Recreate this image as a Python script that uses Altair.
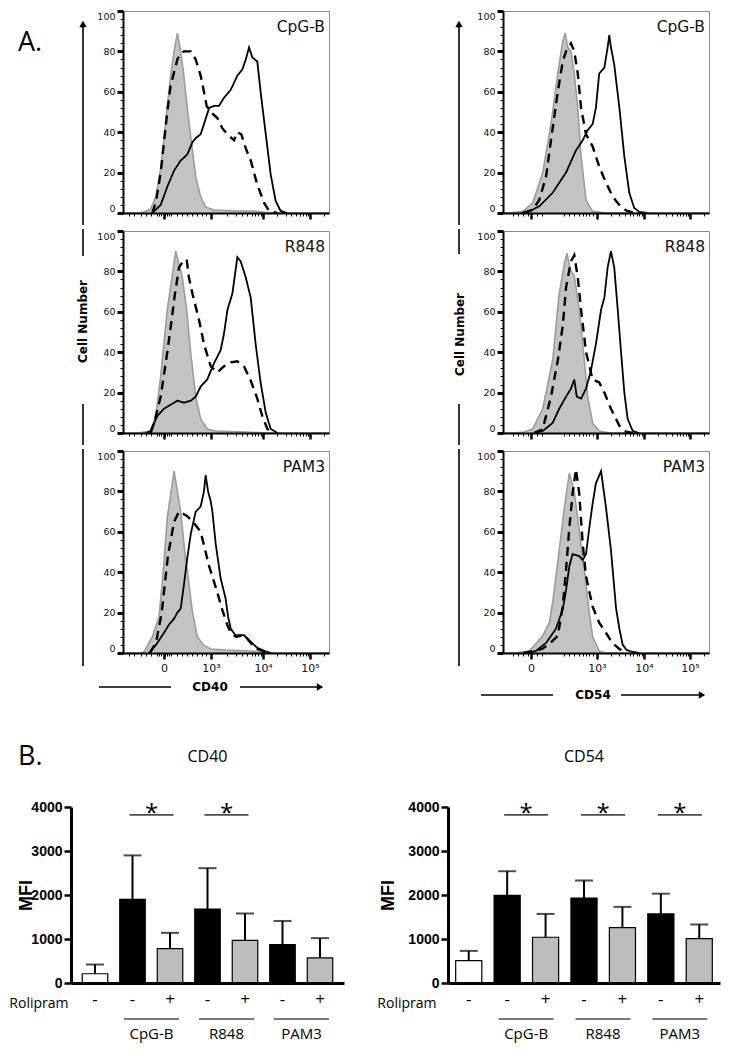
import altair as alt
import pandas as pd

# ---------------- Panel A: flow-cytometry histograms ----------------
# x = position along the biexponential display axis (% of axis width), y = % of mode
# ISO = isotype control (grey fill), ROL = stimulus + rolipram (dashed), STIM = stimulus alone (solid)
CD40_CPG_ISO = [(0, 0), (7, 0), (10.2, 0.5), (13.4, 2), (15.9, 8), (18.3, 22), (20.7, 45), (23.1, 68), (24.8, 80), (26.4, 89),
                (27.7, 82), (29.3, 70), (31.2, 52), (33.2, 35), (35.3, 18), (37.7, 8), (40.1, 3), (44.2, 1.5), (55.5, 1),
                (63.6, 1), (68.5, 0.3), (74.9, 0), (100, 0)]
CD40_CPG_ROL = [(14.2, 0), (15.9, 5), (18.3, 20), (21.5, 50), (23.1, 63), (26.4, 76), (28, 79), (29.6, 80), (32.9, 80),
                (35.3, 76), (37.7, 68), (39.3, 60), (40.6, 53), (42.6, 50), (45.8, 47), (48.2, 42), (50.7, 39), (53.9, 36),
                (55.5, 40), (57.4, 39), (59.6, 32), (62, 26), (65.2, 14), (68.5, 5), (70.9, 1), (74.9, 0)]
CD40_CPG_STIM = [(14.2, 0), (18.3, 4), (21.5, 13), (24.8, 21), (28, 26), (31.2, 29), (33.7, 35), (35.3, 37), (37.7, 39),
                 (39.3, 44), (41.8, 52), (44.2, 53), (46.6, 53), (49, 57), (52.3, 61), (55.5, 68), (57.9, 71), (59.6, 76),
                 (61.2, 82), (62.8, 77), (65.2, 75), (66.8, 60), (69.3, 39), (71.7, 19), (74.1, 6), (76.5, 1), (79.8, 0)]

CD40_R848_ISO = [(0, 0), (7, 0), (13.4, 1), (15.9, 8.5), (18.3, 28), (21.5, 61), (25.6, 90), (28.8, 77), (30.9, 61),
                 (32.9, 39.5), (35.3, 18), (37.7, 7), (40.9, 2), (45, 1), (60, 0.5), (70, 0), (100, 0)]
CD40_R848_ROL = [(13.4, 0), (15.1, 5), (18.3, 18), (21.5, 40), (23.1, 52), (25.1, 68), (27.2, 82), (28.5, 84), (30.9, 86),
                 (32, 77), (33.7, 69), (36.9, 56), (39.3, 44), (42.6, 33), (45.8, 30), (49, 33), (52.3, 35), (55.5, 35.5),
                 (58.7, 33), (62, 26), (65.2, 17), (67.6, 8.5), (70.1, 2), (73, 0)]
CD40_R848_STIM = [(11, 0), (13.4, 1), (16.7, 8.5), (19.9, 12), (23.1, 14), (26.4, 16), (29.6, 15), (32.9, 16), (35.3, 18),
                  (37.7, 23), (40.9, 26.5), (44.2, 34.6), (47.4, 41), (49, 49), (50.7, 61), (53.1, 69), (55.5, 87),
                  (57.1, 85), (59.6, 77), (62, 67), (64.4, 44), (66.8, 25), (69.3, 10), (71.7, 2), (75, 0)]

CD40_PAM3_ISO = [(0, 0), (8, 0), (10.2, 0.5), (14.2, 8), (17.5, 18), (19.6, 41), (21.5, 67), (24.8, 90), (28, 70),
                 (30.4, 46), (31.2, 41), (33.6, 21), (36.1, 8), (39, 4), (42.6, 2), (50, 1.5), (62, 1), (70, 0), (100, 0)]
CD40_PAM3_ROL = [(13, 0), (16, 5), (18.8, 20), (21.8, 48), (24.8, 65), (27.2, 70), (30.9, 68), (34, 65), (37.7, 60),
                 (41.8, 43), (45.8, 30), (48, 22), (50.6, 14), (52.3, 10), (55, 8), (58.7, 9), (62, 5), (65.2, 2), (70, 0)]
CD40_PAM3_STIM = [(12.6, 0), (16, 4), (19.9, 10), (22.3, 14), (24.8, 17), (26.4, 20), (28, 22), (29.6, 34), (31.2, 47),
                  (32.9, 59), (35.3, 70), (37.7, 72.5), (39.3, 80), (40.1, 88), (41.3, 80), (42.6, 75), (43.4, 70),
                  (45, 54), (47.4, 37), (49.8, 27), (51, 18), (52.3, 12), (54.6, 8.8), (58.7, 8.8), (62, 5.6),
                  (65.2, 2.5), (69.2, 0.8), (72, 0)]

CD54_CPG_ISO = [(0, 0), (3, 0), (9.6, 0.8), (14.4, 5), (19.3, 20), (23.3, 44), (26.6, 69), (29, 85), (30.2, 89),
                (31.4, 82), (33, 80), (34.6, 69), (36.3, 52), (37.9, 28), (40.3, 6.5), (43.5, 0.8), (50, 0), (100, 0)]
CD54_CPG_ROL = [(10, 0), (14.4, 1.6), (17.6, 6.5), (20.9, 18), (23.3, 36), (26.6, 60), (29, 75), (30.6, 80), (33, 84),
                (34.6, 80), (36.3, 69), (37.9, 52), (40.3, 39), (43.5, 33), (46.7, 23), (50, 15), (53.3, 8), (56.5, 4),
                (59.7, 1.3), (63, 0.3), (66, 0)]
CD54_CPG_STIM = [(9, 0), (12.8, 0.8), (17.6, 3.3), (24.1, 10), (30.6, 20), (35.4, 31), (38.7, 36), (41.1, 41),
                 (43.5, 44), (45.1, 52), (46.7, 69), (49.2, 72), (50.8, 82), (51.6, 88), (52.4, 82), (54, 73.5),
                 (56.5, 52), (58.9, 28), (61.3, 10), (63.7, 2.5), (66.2, 0.5), (70, 0)]

CD54_R848_ISO = [(0, 0), (5, 0), (10, 0.5), (14.4, 2), (19.3, 12), (24.1, 36), (27.3, 69), (29.8, 84), (31.1, 89),
                 (32.5, 81), (34.6, 78), (37, 61), (39.5, 36), (41.1, 18), (43.5, 5), (46.7, 1), (52, 0), (100, 0)]
CD54_R848_ROL = [(15, 0), (19.3, 2), (23.3, 18), (26.6, 36), (29, 53), (30.6, 72), (33, 85), (34.6, 88), (36.3, 77),
                 (37.9, 61), (40.3, 40), (43.5, 26.5), (46.7, 25), (49.2, 20), (52.4, 12), (56.5, 3.6), (59.7, 0.7),
                 (63, 0)]
CD54_R848_STIM = [(15, 0), (19.3, 1), (24.1, 5), (27.3, 12), (30.6, 18), (33, 22), (34.6, 26.5), (35.8, 18), (37.9, 17),
                  (40.3, 22), (42.7, 31), (45.1, 44), (47.6, 61), (49.2, 67), (50.8, 82), (52.4, 90), (54, 82),
                  (55.7, 61), (57.3, 40), (58.9, 20), (60.5, 7), (63, 1), (66, 0)]

CD54_PAM3_ISO = [(0, 0), (5, 0), (12.8, 1), (19.3, 8.5), (22.5, 15), (24.1, 25), (27.3, 51), (29.8, 72), (32.2, 89),
                 (34.6, 80), (37, 61), (38.7, 46), (39.5, 41), (41.9, 20), (43.5, 8), (46.7, 1), (50, 0), (100, 0)]
CD54_PAM3_ROL = [(10, 0), (19, 2), (23, 5), (26.6, 8.5), (29, 23), (30.6, 41), (32.2, 62), (33.8, 79), (35.4, 91),
                 (37, 79), (38.7, 54), (40.3, 38), (43.5, 23), (46.7, 15), (50, 10), (53, 5), (56.5, 2), (60, 0)]
CD54_PAM3_STIM = [(12, 0), (16, 1), (20.9, 5), (25.7, 12), (29, 21.6), (30.6, 31), (32.2, 43), (33.8, 49), (37, 48),
                  (38.7, 46), (40.3, 49), (41.9, 62), (43.5, 74), (45.1, 84), (47.6, 90), (50, 72), (52.4, 51),
                  (54.9, 22), (56.5, 12), (58.1, 4), (60, 1.5), (63, 0.5), (66, 0)]

STIMULI = ["CpG-B", "R848", "PAM3"]

# axis tick positions (0, 10^3, 10^4, 10^5) on the display axis
CD40_MAJOR = [19.9, 42.7, 68.0, 90.8]
CD40_MINOR = [2.9, 5.3, 8.7, 11.2, 13.6, 16.5, 17.5, 18.4, 20.4, 21.4, 22.3, 23.3, 26.2, 28.6, 31.1, 33.5, 35.9,
              38.3, 40.3, 50.3, 54.8, 57.9, 60.4, 62.4, 64.1, 65.5, 66.8, 74.9, 78.9, 81.7, 83.9, 85.7, 87.3, 88.6,
              89.8, 97.7]
CD54_MAJOR = [13.6, 45.6, 68.4, 90.8]
CD54_MINOR = [4.7, 7.1, 9.6, 12.0, 16.5, 19.0, 29.6, 32.0, 34.5, 37.0, 38.6, 40.3, 41.9, 43.5, 52.5, 56.5, 59.3,
              61.5, 63.3, 64.9, 66.2, 67.3, 75.3, 79.3, 82.1, 84.3, 86.0, 87.5, 88.8, 89.9, 97.5]
Y_MAJOR = [0, 20, 40, 60, 80, 100]
Y_MINOR = [4, 8, 12, 16, 24, 28, 32, 36, 44, 48, 52, 56, 64, 68, 72, 76, 84, 88, 92, 96]

# ---------------- Panel B: bar charts ----------------
BAR_CATS = ["ctrl|-", "CpG-B|-", "CpG-B|+", "R848|-", "R848|+", "PAM3|-", "PAM3|+"]
BAR_COND = ["ctrl", "-", "+", "-", "+", "-", "+"]
CD40_MEAN = [210, 1900, 780, 1680, 970, 870, 570]
CD40_SD = [210, 1000, 360, 930, 610, 540, 450]
CD54_MEAN = [510, 1990, 1040, 1930, 1260, 1570, 1010]
CD54_SD = [220, 550, 530, 400, 470, 460, 320]
CD40_SIG = ["CpG-B", "R848"]
CD54_SIG = ["CpG-B", "R848", "PAM3"]
SIG_LEVEL = 3820

PW, PH = 206, 202
BH = 176
X_LABEL_EXPR = ("datum.value < 30 ? '0' : datum.value < 56 ? '10\u00b3' : "
                "datum.value < 80 ? '10\u2074' : '10\u2075'")
ONE = pd.DataFrame({"k": [0]})


def xy(points):
    return pd.DataFrame(points, columns=["x", "y"])


def minor_axis(values, orient):
    return alt.Axis(values=values, labels=False, tickSize=3, tickWidth=1, domain=False, orient=orient,
                    title=None, grid=False, zindex=1)


def rule(x, y, x2=None, y2=None, w=1.6):
    enc = dict(x=alt.value(x), y=alt.value(y))
    if x2 is not None:
        enc["x2"] = alt.value(x2)
    if y2 is not None:
        enc["y2"] = alt.value(y2)
    return alt.Chart(ONE).mark_rule(color="black", strokeWidth=w).encode(**enc)


def anchor(x1, y1, x2, y2):
    # invisible frame that fixes the layout extent of a panel
    return alt.Chart(ONE).mark_rule(color="white", opacity=0, strokeWidth=0.1).encode(
        x=alt.value(x1), y=alt.value(y1), x2=alt.value(x2), y2=alt.value(y2))


def arrowhead(x, y, shape):
    return alt.Chart(ONE).mark_point(shape=shape, filled=True, color="black", size=55, opacity=1).encode(
        x=alt.value(x), y=alt.value(y))


def label(text, x, y, size, weight="normal", font="Open Sans", align="center"):
    return alt.Chart(ONE).mark_text(text=text, fontSize=size, fontWeight=weight, font=font, align=align,
                                    baseline="middle", color="black").encode(x=alt.value(x), y=alt.value(y))


def hist_panel(name, iso, rol, stim, major_x, minor_x, pos, col):
    xs = alt.Scale(domain=[0, 100], nice=False, zero=False)
    ys = alt.Scale(domain=[0, 100], nice=False)
    x_axis = alt.Axis(values=major_x, orient="bottom", labels=(pos == 2), labelExpr=X_LABEL_EXPR,
                      labelFontSize=11, labelPadding=3, tickSize=6, tickWidth=2.5, domainWidth=2,
                      title=None, grid=False, zindex=1)
    ykw = dict(values=Y_MAJOR, orient="left", labelFontSize=9.5, labelFlush=True, tickSize=6, tickWidth=3,
               domainWidth=2, labelPadding=2, grid=False, zindex=1)
    if pos == 1:
        ykw.update(title="Cell Number", titleFontSize=12, titleFontWeight="bold", titleAlign="center",
                   titleBaseline="middle", titleX=(-41 if col == 0 else -44), titleY=(90 if col == 0 else 103))
    else:
        ykw["title"] = None
    area = alt.Chart(xy(iso)).mark_area(
        color="#c3c3c3", opacity=1, clip=True, line={"color": "#9c9c9c", "strokeWidth": 1.6}
    ).encode(x=alt.X("x:Q", scale=xs, axis=x_axis), y=alt.Y("y:Q", scale=ys, axis=alt.Axis(**ykw)))
    dashed = alt.Chart(xy(rol)).mark_line(color="black", strokeWidth=2.4, strokeDash=[9, 6], clip=True).encode(
        x=alt.X("x:Q", scale=xs, axis=minor_axis(minor_x, "bottom")),
        y=alt.Y("y:Q", scale=ys, axis=minor_axis(Y_MINOR, "left")))
    solid = alt.Chart(xy(stim)).mark_line(color="black", strokeWidth=1.8, clip=True).encode(
        x=alt.X("x:Q", scale=xs, axis=None), y=alt.Y("y:Q", scale=ys, axis=None))
    text = alt.Chart(pd.DataFrame({"t": [name]})).mark_text(
        align="right", baseline="alphabetic", fontSize=15.5, font="DejaVu Sans", color="#111"
    ).encode(text="t:N", x=alt.value(PW - 4), y=alt.value(21))
    layers = [area, dashed, solid, text]
    ax = -40 if col == 0 else -44
    bottom_ext = PH + 50 if pos == 2 else PH + 12
    layers.append(anchor(-49 if col == 0 else -60, -2, 210, bottom_ext))
    if pos == 0:
        layers += [rule(ax, 13, y2=PH + 12), arrowhead(ax, 13, "triangle-up")]
    if pos == 1:
        layers += [rule(ax, -2, y2=25 if col == 0 else 23), rule(ax, 173, y2=PH + 12)]
    if pos == 2:
        layers.append(rule(ax, -2, y2=215))
        nm = "CD40" if col == 0 else "CD54"
        ly = PH + 34 if col == 0 else PH + 42
        cx = 87 if col == 0 else 90
        l0, l1 = (-24, 48) if col == 0 else (-22, 50)
        r0, r1 = (117, 197) if col == 0 else (118, 199)
        layers += [label(nm, cx, ly, 12, "bold", "DejaVu Sans"),
                   rule(l0, ly, x2=l1, w=1.4), rule(r0, ly, x2=r1, w=1.4), arrowhead(r1, ly, "triangle-right")]
    return alt.layer(*layers).resolve_axis(x="independent", y="independent").properties(
        width=PW, height=PH, view={"stroke": "#8c8c8c", "strokeWidth": 1})


def bar_chart(title, means, sds, sig, W, po, mfi_x, rol_x, left_ext, right_ext, with_b):
    H = BH
    df = pd.DataFrame({"cat": BAR_CATS, "cond": BAR_COND, "mean": means, "sd": sds})
    df["top"] = df["mean"] + df["sd"]
    xsc = alt.Scale(domain=BAR_CATS, paddingInner=0.32, paddingOuter=po)
    ysc = alt.Scale(domain=[0, 4000], nice=False)
    x_axis = alt.Axis(labelExpr="split(datum.label, '|')[1]", labelAngle=0, ticks=False, domainWidth=3,
                      labelFontSize=17, labelFont="Open Sans", labelPadding=8, labelColor="black",
                      title="Rolipram", titleFont="Open Sans", titleFontSize=14, titleFontWeight="normal",
                      titleAlign="right", titleBaseline="middle", titleAngle=0, titleX=rol_x, titleY=20,
                      titleColor="black", zindex=1)
    y_axis = alt.Axis(values=[0, 1000, 2000, 3000, 4000], format="d", labelFont="Liberation Sans",
                      labelFontWeight="bold", labelFontSize=14, labelColor="black", tickSize=7, tickWidth=2.5,
                      domainWidth=3, labelPadding=2, title="MFI", titleFont="Liberation Sans", titleFontSize=18,
                      titleFontWeight="bold", titleX=mfi_x, titleY=H / 2, titleAlign="center",
                      titleBaseline="middle", titleColor="black", zindex=1)
    base = alt.Chart(df)
    bars = base.mark_bar(stroke="black", strokeWidth=1.2).encode(
        x=alt.X("cat:N", scale=xsc, axis=x_axis, sort=BAR_CATS),
        y=alt.Y("mean:Q", scale=ysc, axis=y_axis),
        fill=alt.Fill("cond:N", scale=alt.Scale(domain=["ctrl", "-", "+"], range=["#ffffff", "#000000", "#bdbdbd"]),
                      legend=None))
    err = base.mark_rule(color="black", strokeWidth=2).encode(x="cat:N", y="mean:Q", y2="top:Q")
    caps = base.mark_tick(color="black", thickness=2, size=18, orient="horizontal").encode(x="cat:N", y="top:Q")
    sig_df = pd.DataFrame({"cat": [g + "|-" for g in sig], "y": [SIG_LEVEL] * len(sig), "s": ["*"] * len(sig)})
    sig_line = alt.Chart(sig_df).mark_tick(color="black", thickness=1.6, size=44, orient="horizontal",
                                           xOffset=19).encode(x="cat:N", y="y:Q")
    sig_star = alt.Chart(sig_df).mark_text(fontSize=24, font="Open Sans", dx=19, dy=6, baseline="alphabetic",
                                           color="black").encode(x="cat:N", y="y:Q", text="s:N")
    grp_df = pd.DataFrame({"cat": [g + "|-" for g in STIMULI], "g": STIMULI})
    grp_line = alt.Chart(grp_df).mark_tick(color="black", thickness=1.5, size=55, orient="horizontal",
                                           xOffset=19).encode(x="cat:N", y=alt.value(H + 36))
    grp_text = alt.Chart(grp_df).mark_text(fontSize=15, font="Open Sans", dx=19, baseline="middle",
                                           color="black").encode(x="cat:N", y=alt.value(H + 51), text="g:N")
    layers = [bars, err, caps, sig_line, sig_star, grp_line, grp_text,
              label(title, W / 2, -50, 16), anchor(-left_ext, -66, W + right_ext, H + 58)]
    if with_b:
        layers.append(label("B.", -53, -50, 27, align="left"))
    return alt.layer(*layers).properties(width=W, height=H, view={"stroke": "transparent"})


left_sets = [(CD40_CPG_ISO, CD40_CPG_ROL, CD40_CPG_STIM), (CD40_R848_ISO, CD40_R848_ROL, CD40_R848_STIM),
             (CD40_PAM3_ISO, CD40_PAM3_ROL, CD40_PAM3_STIM)]
right_sets = [(CD54_CPG_ISO, CD54_CPG_ROL, CD54_CPG_STIM), (CD54_R848_ISO, CD54_R848_ROL, CD54_R848_STIM),
              (CD54_PAM3_ISO, CD54_PAM3_ROL, CD54_PAM3_STIM)]

left_col = alt.vconcat(*[hist_panel(STIMULI[i], *left_sets[i], CD40_MAJOR, CD40_MINOR, i, 0) for i in range(3)],
                       spacing=0)
right_col = alt.vconcat(*[hist_panel(STIMULI[i], *right_sets[i], CD54_MAJOR, CD54_MINOR, i, 1) for i in range(3)],
                        spacing=0)

# lead cell carrying the "A." label; its origin lines up with the left bar chart's plot origin
lead = alt.layer(label("A.", -53, 32, 27, align="left"), anchor(-53, 0, 0, 50)).properties(
    width=1, height=1, view={"stroke": "transparent"})

hist_row = alt.hconcat(lead, alt.hconcat(left_col, right_col, spacing=108), spacing=0)

bar_row = alt.hconcat(
    bar_chart("CD40", CD40_MEAN, CD40_SD, CD40_SIG, 273, 0.3, -45, -3, 62, 5, True),
    bar_chart("CD54", CD54_MEAN, CD54_SD, CD54_SIG, 272, 0.2, -60, -12, 72, 1, False),
    spacing=25)

chart = alt.vconcat(hist_row, bar_row, spacing=36).properties(padding=0).configure_axis(
    grid=False, domainColor="black", tickColor="black", labelColor="#111", labelFont="DejaVu Sans",
    titleFont="DejaVu Sans", titleColor="black")

chart.save("out.html", embed_options={"renderer": "svg", "actions": False})
